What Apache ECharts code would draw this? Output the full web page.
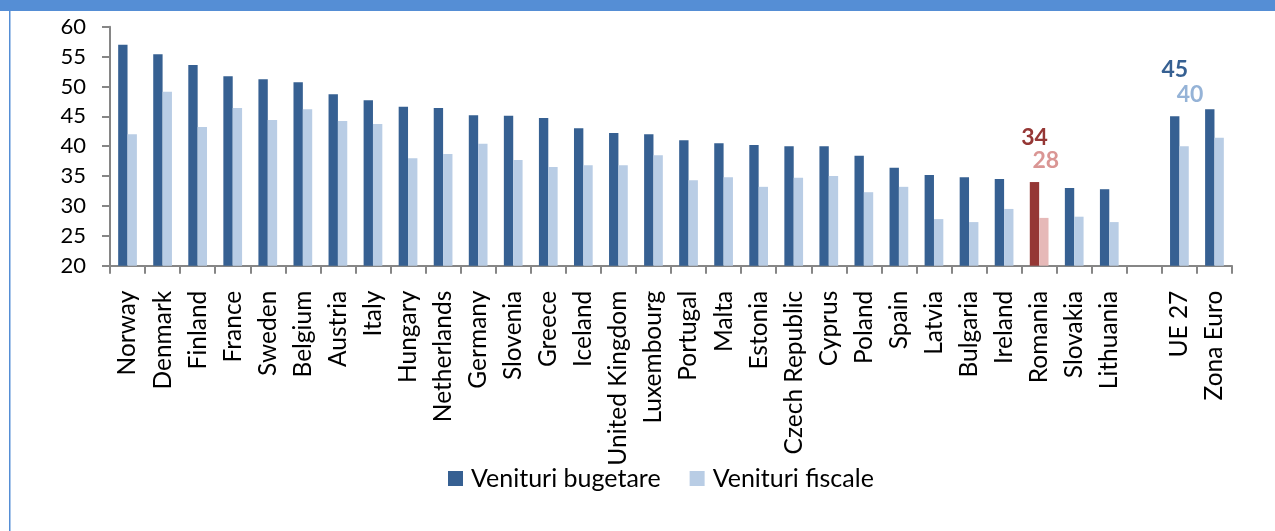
<!DOCTYPE html>
<html>
<head>
<meta charset="utf-8">
<title>Venituri bugetare si venituri fiscale</title>
<script src="https://cdn.jsdelivr.net/npm/echarts@6/dist/echarts.min.js"></script>
<style>
  html, body { margin: 0; padding: 0; background: #ffffff; }
  #chart { width: 1275px; height: 531px; }
</style>
</head>
<body>
<div id="chart"></div>
<script>
// Countries, then a spacer slot, then the EU aggregates
const categories = [
  'Norway', 'Denmark', 'Finland', 'France', 'Sweden', 'Belgium', 'Austria', 'Italy',
  'Hungary', 'Netherlands', 'Germany', 'Slovenia', 'Greece', 'Iceland', 'United Kingdom',
  'Luxembourg', 'Portugal', 'Malta', 'Estonia', 'Czech Republic', 'Cyprus', 'Poland',
  'Spain', 'Latvia', 'Bulgaria', 'Ireland', 'Romania', 'Slovakia', 'Lithuania',
  '', 'UE 27', 'Zona Euro'
];

// Venituri bugetare (% PIB)
const venituriBugetare = [
  57.0, 55.4, 53.6, 51.7, 51.2, 50.7, 48.7, 47.7,
  46.6, 46.4, 45.2, 45.1, 44.7, 43.0, 42.2,
  42.0, 41.0, 40.5, 40.2, 40.0, 40.0, 38.4,
  36.4, 35.2, 34.8, 34.5, 34, 33.0, 32.8,
  null, 45, 46.2
];

// Venituri fiscale (% PIB)
const venituriFiscale = [
  42.0, 49.1, 43.2, 46.4, 44.4, 46.2, 44.2, 43.7,
  38.0, 38.7, 40.4, 37.7, 36.5, 36.8, 36.8,
  38.5, 34.3, 34.8, 33.2, 34.7, 35.0, 32.3,
  33.2, 27.8, 27.3, 29.5, 28, 28.2, 27.3,
  null, 40, 41.4
];

const yTicks = { min: 20, max: 60, step: 5 };

const FONT = 'Lato, "Open Sans", sans-serif';
const AXIS_GREY = '#868686';
const DARK = '#366092';
const LIGHT = '#b9cde5';

// Per-category overrides: Romania is highlighted in red, UE 27 carries value labels
const highlight = {
  'Romania': {
    bugetare: { color: '#953735', label: { color: '#953735', offset: [0, -32] } },
    fiscale:  { color: '#e6b9b8', label: { color: '#da9694', offset: [2, -45] } }
  },
  'UE 27': {
    bugetare: { color: DARK, label: { color: DARK, offset: [0, -35] } },
    fiscale:  { color: LIGHT, label: { color: '#95b3d7', offset: [6, -40] } }
  }
};

function buildData(values, key) {
  return values.map((v, i) => {
    const h = highlight[categories[i]];
    if (!h) return v;
    const s = h[key];
    return {
      value: v,
      itemStyle: { color: s.color },
      label: {
        show: true,
        position: 'top',
        distance: 0,
        offset: s.label.offset,
        color: s.label.color,
        fontFamily: FONT,
        fontWeight: 'bold',
        fontSize: 23,
        lineHeight: 24,
        formatter: '{c}'
      }
    };
  });
}

const chart = echarts.init(document.getElementById('chart'), null, { renderer: 'canvas' });

chart.setOption({
  backgroundColor: '#ffffff',
  animation: false,
  textStyle: { fontFamily: FONT },
  graphic: [
    { type: 'rect', left: 0, top: 0, shape: { width: 1275, height: 11 }, style: { fill: '#558ed5' }, silent: true },
    { type: 'rect', left: 9, top: 11, shape: { width: 1.5, height: 520 }, style: { fill: '#558ed5' }, silent: true }
  ],
  grid: {
    left: 110,
    top: 26.7,
    width: 1122,
    height: 239,
    containLabel: false
  },
  legend: {
    left: 448,
    top: 466,
    padding: 0,
    itemWidth: 15,
    itemHeight: 15,
    itemGap: 29,
    icon: 'rect',
    textStyle: { fontFamily: FONT, fontSize: 25, lineHeight: 25, color: '#000000', padding: [0, 0, 0, 3] },
    data: ['Venituri bugetare', 'Venituri fiscale']
  },
  xAxis: {
    type: 'category',
    data: categories,
    boundaryGap: true,
    axisLine: { show: true, lineStyle: { color: AXIS_GREY, width: 2 } },
    axisTick: { show: true, interval: 0, length: 8, lineStyle: { color: AXIS_GREY, width: 2 } },
    axisLabel: {
      interval: 0,
      rotate: 90,
      margin: 25,
      fontFamily: FONT,
      fontSize: 24.5,
      color: '#000000'
    },
    splitLine: { show: false }
  },
  yAxis: {
    type: 'value',
    min: yTicks.min,
    max: yTicks.max,
    interval: yTicks.step,
    axisLine: { show: true, lineStyle: { color: AXIS_GREY, width: 2 } },
    axisTick: { show: true, length: 8, lineStyle: { color: AXIS_GREY, width: 2 } },
    axisLabel: { margin: 24, fontFamily: FONT, fontSize: 22, color: '#000000' },
    splitLine: { show: false }
  },
  series: [
    {
      name: 'Venituri bugetare',
      type: 'bar',
      barWidth: '26.7%',
      barGap: '0%',
      itemStyle: { color: DARK },
      data: buildData(venituriBugetare, 'bugetare')
    },
    {
      name: 'Venituri fiscale',
      type: 'bar',
      barWidth: '26.7%',
      barGap: '0%',
      itemStyle: { color: LIGHT },
      data: buildData(venituriFiscale, 'fiscale')
    }
  ]
});
</script>
</body>
</html>
